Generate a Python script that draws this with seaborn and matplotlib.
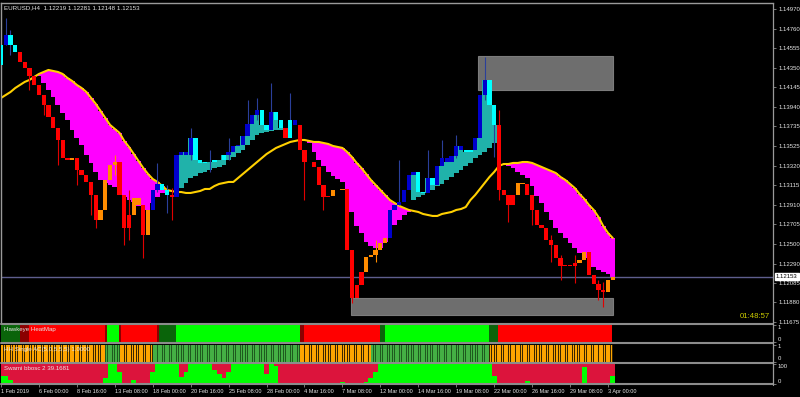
import numpy as np
import matplotlib
matplotlib.use("Agg")
import matplotlib.pyplot as plt
import seaborn as sns
from matplotlib.patches import Rectangle
from matplotlib.lines import Line2D

# ---------------- data ----------------
title_text = "EURUSD,H4  1.12219 1.12281 1.12148 1.12153"
timer_text = "01:48:57"
last_price = 1.12153
first_open = 1.14381

# Heiken-Ashi style closes, one candle per 2 H4 bars
close = [
    1.14591, 1.14696, 1.14591, 1.14517, 1.14412, 1.14349, 1.14265, 1.14170, 1.14065, 1.13959,
    1.13833, 1.13717, 1.13591, 1.13401, 1.13380, 1.13401, 1.13275, 1.13222, 1.13149, 1.13012,
    1.12748, 1.12854, 1.13170, 1.13328, 1.13359, 1.13012, 1.12664, 1.12801, 1.12980, 1.12906,
    1.12590, 1.12854, 1.13064, 1.13128, 1.13064, 1.13012, 1.12991, 1.13433, 1.13464, 1.13433,
    1.13612, 1.13380, 1.13349, 1.13359, 1.13359, 1.13380, 1.13380, 1.13433, 1.13464, 1.13528,
    1.13538, 1.13633, 1.13759, 1.13854, 1.13907, 1.13749, 1.13696, 1.13886, 1.13801, 1.13717,
    1.13612, 1.13801, 1.13749, 1.13486, 1.13359, 1.13359, 1.13307, 1.13117, 1.12991, 1.13001,
    1.13064, 1.13064, 1.13075, 1.12433, 1.11927, 1.12064, 1.12201, 1.12359, 1.12380, 1.12433,
    1.12506, 1.12559, 1.12854, 1.12906, 1.12938, 1.13064, 1.13222, 1.13254, 1.13043, 1.13033,
    1.13191, 1.13117, 1.13317, 1.13401, 1.13359, 1.13422, 1.13528, 1.13486, 1.13464, 1.13486,
    1.13612, 1.14065, 1.14223, 1.13959, 1.13749, 1.13064, 1.13012, 1.12906, 1.13012, 1.13138,
    1.13128, 1.13012, 1.12854, 1.12696, 1.12664, 1.12538, 1.12485, 1.12348, 1.12264, 1.12275,
    1.12264, 1.12296, 1.12327, 1.12411, 1.12169, 1.12075, 1.12011, 1.11990, 1.12117, 1.12153,
]
candle_kind = list(
    "cbccrrrrrr" "rrrrrorrrr" "roooorrroo" "robbccrbbb" "bcccccccbb"
    "bbbbbccbcc" "rcbrrrrrrr" "ooorrrrooo" "oobbbbbbcc" "bcbbbbbbcc"
    "bbbccrrrro" "orrrrrrrrr" "rroorrrroo"
)
ma_line = [
    1.14033, 1.14065, 1.14096, 1.14138, 1.14170, 1.14202, 1.14223, 1.14254, 1.14286, 1.14307,
    1.14328, 1.14317, 1.14307, 1.14286, 1.14244, 1.14212, 1.14170, 1.14138, 1.14096, 1.14033,
    1.13970, 1.13896, 1.13822, 1.13749, 1.13707, 1.13665, 1.13580, 1.13517, 1.13443, 1.13370,
    1.13296, 1.13233, 1.13180, 1.13149, 1.13106, 1.13064, 1.13054, 1.13043, 1.13043, 1.13033,
    1.13033, 1.13043, 1.13054, 1.13075, 1.13075, 1.13106, 1.13128, 1.13138, 1.13149, 1.13149,
    1.13191, 1.13233, 1.13275, 1.13317, 1.13359, 1.13401, 1.13443, 1.13475, 1.13507, 1.13528,
    1.13549, 1.13570, 1.13580, 1.13591, 1.13591, 1.13580, 1.13570, 1.13570, 1.13559, 1.13549,
    1.13528, 1.13517, 1.13507, 1.13464, 1.13412, 1.13349, 1.13296, 1.13233, 1.13170, 1.13117,
    1.13064, 1.13012, 1.12959, 1.12927, 1.12896, 1.12875, 1.12854, 1.12843, 1.12833, 1.12812,
    1.12801, 1.12791, 1.12791, 1.12812, 1.12822, 1.12833, 1.12854, 1.12864, 1.12885, 1.12959,
    1.13012, 1.13075, 1.13138, 1.13201, 1.13254, 1.13317, 1.13338, 1.13338, 1.13349, 1.13349,
    1.13359, 1.13359, 1.13349, 1.13328, 1.13307, 1.13285, 1.13264, 1.13243, 1.13201, 1.13170,
    1.13128, 1.13085, 1.13022, 1.12970, 1.12906, 1.12854, 1.12780, 1.12685, 1.12612, 1.12559,
]
nan = float("nan")
band = [
    nan, nan, nan, nan, nan, nan, nan, nan, 1.14265, 1.14191,
    1.14117, 1.14044, 1.13959, 1.13875, 1.13801, 1.13696, 1.13612, 1.13538, 1.13433, 1.13349,
    1.13254, 1.13170, 1.13138, 1.13117, 1.13096, 1.13043, 1.12991, 1.12959, 1.12938, 1.12896,
    1.12854, 1.12854, 1.12927, 1.12991, 1.13033, 1.13054, nan, 1.13043, 1.13085, 1.13138,
    1.13191, 1.13212, 1.13243, 1.13254, 1.13275, 1.13296, 1.13307, 1.13328, 1.13380, 1.13412,
    1.13454, 1.13486, 1.13538, 1.13591, 1.13643, 1.13665, 1.13675, 1.13686, 1.13696, 1.13696,
    nan, nan, nan, nan, nan, 1.13559, 1.13464, 1.13380, 1.13317, 1.13254,
    1.13212, 1.13180, 1.13149, 1.13012, 1.12833, 1.12685, 1.12612, 1.12517, 1.12475, 1.12454,
    1.12454, 1.12517, 1.12633, 1.12696, 1.12748, 1.12801, 1.12833, 1.12959, 1.12991, 1.13012,
    1.13033, 1.13064, 1.13106, 1.13128, 1.13170, 1.13201, 1.13243, 1.13275, 1.13317, 1.13349,
    1.13401, 1.13433, 1.13464, 1.13507, 1.13559, nan, 1.13328, 1.13317, 1.13296, 1.13254,
    1.13222, 1.13191, 1.13106, 1.13001, 1.12927, 1.12833, 1.12748, 1.12664, 1.12612, 1.12559,
    1.12506, 1.12454, 1.12401, 1.12348, 1.12306, 1.12253, 1.12222, 1.12201, 1.12180, 1.12153,
]
band_kind = list(
    "--------mm" "mmmmmmmmmm" "mmmmmmmmmm" "mmmmmm-ttt" "tttttttttt"
    "tttttttttt" "-----mmmmm" "mmmmmmmmmm" "mmmmmmmttt" "tttttttttt"
    "ttttt-mmmm" "mmmmmmmmmm" "mmmmmmmmmm"
)
wick_candle = [1, 2, 6, 9, 12, 16, 19, 20, 24, 26, 27, 30, 33, 35, 36, 40, 44, 48, 52, 54,
               57, 61, 64, 68, 74, 79, 84, 90, 93, 96, 102, 104, 105, 107, 112, 116, 118, 121, 126, 127]
wick_high = [1.14875, 1.14749, 1.14349, 1.14065, 1.13696, 1.13380, 1.13117, 1.12959, 1.13433, 1.13012,
             1.13064, 1.12854, 1.13349, 1.13117, 1.13085, 1.13717, 1.13486, 1.13612, 1.14012, 1.14033,
             1.14191, 1.14086, 1.13433, 1.13117, 1.12117, 1.12538, 1.13380, 1.13486, 1.13591, 1.13643,
             1.14465, 1.13801, 1.13907, 1.13012, 1.13012, 1.12590, 1.12380, 1.12380, 1.12117, 1.12096]
wick_low = [1.14591, 1.14486, 1.14117, 1.13854, 1.13328, 1.13117, 1.12801, 1.12664, 1.13222, 1.12485,
            1.12538, 1.12348, 1.13043, 1.12822, 1.12748, 1.13380, 1.13254, 1.13380, 1.13643, 1.13801,
            1.13749, 1.13643, 1.12959, 1.12854, 1.11874, 1.12306, 1.12906, 1.13064, 1.13328, 1.13401,
            1.14012, 1.13412, 1.12959, 1.12727, 1.12696, 1.12306, 1.12117, 1.12085, 1.11906, 1.11832]

zone_left = [201.2, 147.6]
zone_right = [258.1, 258.1]
zone_low = [1.14117, 1.11748]
zone_high = [1.14475, 1.11927]

price_ticks = [1.14970, 1.14760, 1.14555, 1.14350, 1.14145, 1.13940, 1.13735, 1.13525, 1.13320,
               1.13115, 1.12910, 1.12705, 1.12500, 1.12290, 1.12085, 1.11880, 1.11675]
time_tick_bars = [0, 16, 32, 48, 64, 80, 96, 112, 128, 144, 160, 176, 192, 208, 224, 240, 256]
time_labels = ["1 Feb 2019", "6 Feb 00:00", "8 Feb 16:00", "13 Feb 08:00", "18 Feb 00:00",
               "20 Feb 16:00", "25 Feb 08:00", "28 Feb 00:00", "4 Mar 16:00", "7 Mar 08:00",
               "12 Mar 00:00", "14 Mar 16:00", "19 Mar 08:00", "22 Mar 00:00", "26 Mar 16:00",
               "29 Mar 08:00", "3 Apr 00:00"]

heat_start = [0, 8.0, 11.8, 43.9, 44.7, 49.8, 50.6, 65.8, 66.6, 73.8, 126.1, 127.8, 159.8, 162.0, 205.8, 209.6]
heat_end_last = 257.7
heat_state = ["G", "D", "R", "D", "L", "D", "R", "D", "G", "L", "D", "R", "G", "L", "G", "R"]

hh_start = [0, 44, 50, 64, 126, 156, 206]
hh_end_last = 258
hh_state = ["O", "G", "O", "G", "O", "G", "O"]

swami = [
    40, 40, 20, 0, 0, 0, 0, 0, 0, 0,
    0, 0, 0, 0, 0, 0, 0, 0, 0, 0,
    0, 0, 30, 100, 100, 60, 0, 0, 20, 0,
    0, 0, 60, 100, 100, 100, 100, 100, 35, 60,
    100, 100, 100, 100, 100, 70, 50, 30, 60, 100,
    100, 100, 100, 100, 100, 100, 50, 100, 90, 0,
    0, 0, 0, 0, 0, 0, 0, 0, 0, 0,
    0, 0, 10, 0, 0, 0, 0, 10, 30, 60,
    100, 100, 100, 100, 100, 100, 100, 100, 100, 100,
    100, 100, 100, 100, 100, 100, 100, 100, 100, 100,
    100, 100, 100, 100, 40, 0, 0, 0, 0, 0,
    0, 15, 0, 0, 0, 0, 0, 0, 0, 0,
    0, 0, 0, 85, 0, 0, 0, 0, 0, 40,
]

# ---------------- styling ----------------
sns.set_theme(style="dark")
plt.rcParams["font.family"] = ["Liberation Sans", "DejaVu Sans"]

CANDLE = {"b": "#0000CD", "c": "#00FFFF", "r": "#FF0000", "o": "#FF8C00"}
WICK = {"b": "#2A3F9A", "c": "#2A3F9A", "r": "#E00000", "o": "#FF8C00"}
HEAT = {"G": "#0A640A", "D": "#8B0000", "R": "#FF0000", "L": "#00FF00"}
HH = {"O": "#FFA500", "G": "#44B044"}
HH_GAP = {"O": "#3a2600", "G": "#1E5A1E"}
GRAY = "#8a8a8a"
TXT = "#e6e6e6"

W, H = 800, 397
fig = plt.figure(figsize=(8.0, 3.97), dpi=100)
fig.patch.set_facecolor("black")


def px_rect(x0, y0, x1, y1):
    return [x0 / W, 1 - y1 / H, (x1 - x0) / W, (y1 - y0) / H]


XL = (0, 325.6)
ax = fig.add_axes(px_rect(1, 3, 773, 323))
ax1 = fig.add_axes(px_rect(1, 324.8, 773, 342.2))
ax2 = fig.add_axes(px_rect(1, 344.5, 773, 361.5))
ax3 = fig.add_axes(px_rect(1, 363.5, 773, 384))

for a in (ax, ax1, ax2, ax3):
    a.set_facecolor("black")
    a.set_xlim(*XL)
    a.grid(False)
    for s in a.spines.values():
        s.set_visible(False)

# ---------------- main price panel ----------------
close_a = np.array(close)
ma_a = np.array(ma_line)
band_a = np.array(band)
kind_a = np.array(band_kind)
cx = 2.0 * np.arange(len(close_a))

m = kind_a == "m"
ax.bar(cx[m], np.abs(band_a[m] - ma_a[m]), bottom=np.minimum(band_a[m], ma_a[m]),
       width=2.05, color="#FF00FF", linewidth=0, zorder=1)
t = kind_a == "t"
ax.bar(cx[t], np.abs(band_a[t] - close_a[t]), bottom=np.minimum(band_a[t], close_a[t]),
       width=2.05, color="#20B2AA", linewidth=0, zorder=1)

for l, r, lo, hi in zip(zone_left, zone_right, zone_low, zone_high):
    ax.add_patch(Rectangle((l, lo), r - l, hi - lo, facecolor="#6E6E6E",
                           edgecolor="#7c7c7c", linewidth=0.8, zorder=0.5))

ax.axhline(last_price, color="#5e5e8e", linewidth=1.0, zorder=1.5)

sns.lineplot(x=cx, y=ma_a, ax=ax, color="#FFD000", linewidth=1.5, zorder=2, legend=False)

opens = np.concatenate([[first_open], close_a[:-1]])
lo_b = np.minimum(opens, close_a)
hi_b = np.maximum(opens, close_a)
minh = 0.00007
small = (hi_b - lo_b) < minh
heights = np.where(small, minh, hi_b - lo_b)
bottoms = np.where(small, (hi_b + lo_b) / 2 - minh / 2, lo_b)
wk = np.array(wick_candle)
ax.vlines(cx[wk], wick_low, wick_high, colors=[WICK[candle_kind[k]] for k in wk],
          linewidth=0.8, zorder=3)
ax.bar(cx, heights, bottom=bottoms, width=1.8,
       color=[CANDLE[k] for k in candle_kind], linewidth=0, zorder=4)

ax.set_ylim(1.11664, 1.15033)
ax.set_xticks([])
ax.yaxis.tick_right()
ax.set_yticks(price_ticks)
ax.set_yticklabels([f"{v:.5f}" for v in price_ticks])
ax.tick_params(axis="y", which="both", length=2.5, width=0.6, pad=1.5,
               color=GRAY, labelcolor=TXT, labelsize=4.3, right=True, left=False)
ax.set_ylabel("")
ax.set_xlabel("")
ax.spines["top"].set_visible(True)
ax.spines["left"].set_visible(True)
ax.spines["top"].set_color("#9a9a9a")
ax.spines["left"].set_color("#9a9a9a")
ax.spines["top"].set_linewidth(1.0)
ax.spines["left"].set_linewidth(1.0)

# ---------------- Hawkeye heatmap ----------------
heat_end = heat_start[1:] + [heat_end_last]
ax1.bar(heat_start, 1, width=np.array(heat_end) - np.array(heat_start), bottom=0,
        align="edge", color=[HEAT[s] for s in heat_state], linewidth=0)
ax1.set_ylim(0, 1)

# ---------------- HH stripes ----------------
hh_end = hh_start[1:] + [hh_end_last]
ax2.bar(hh_start, 1, width=np.array(hh_end) - np.array(hh_start), bottom=0,
        align="edge", color=[HH_GAP[s] for s in hh_state], linewidth=0)
hh_bars = np.arange(0, hh_end_last)
idx = np.searchsorted(np.array(hh_start), hh_bars, side="right") - 1
ax2.bar(hh_bars + 0.5, 1, width=0.7, bottom=0,
        color=[HH[hh_state[i]] for i in idx], linewidth=0)
ax2.set_ylim(0, 1)

# ---------------- Swami bbosc ----------------
swami_a = np.array(swami, dtype=float)
ax3.bar(cx, 100, width=2.05, color="#DC143C", linewidth=0)
ax3.bar(cx, swami_a, width=2.05, color="#00FF00", linewidth=0)
ax3.set_ylim(0, 100)

for a, labs in ((ax1, ["0", "1"]), (ax2, ["0", "1"]), (ax3, ["0", "100"])):
    a.yaxis.tick_right()
    lo, hi = a.get_ylim()
    a.set_yticks([lo, hi])
    a.set_yticklabels(labs)
    a.tick_params(axis="y", length=2, width=0.6, pad=1.5, color=GRAY,
                  labelcolor=TXT, labelsize=4.3, right=True, left=False)
    ylabs = a.get_yticklabels()
    ylabs[0].set_va("bottom")
    ylabs[1].set_va("top")
    a.set_ylabel("")

for a in (ax1, ax2):
    a.set_xticks([])

ax3.set_xticks(time_tick_bars)
ax3.set_xticklabels(time_labels, ha="left")
ax3.tick_params(axis="x", length=2.5, width=0.6, pad=1.0, color=GRAY,
                labelcolor=TXT, labelsize=4.0, bottom=True)
ax3.set_xlabel("")

# ---------------- frame lines & texts ----------------
for ypx in (323.8, 343.4, 362.6, 384.4):
    fig.add_artist(Line2D([1 / W, 773 / W], [1 - ypx / H, 1 - ypx / H],
                          transform=fig.transFigure, color="#8c8c8c", linewidth=1.5))
fig.add_artist(Line2D([773 / W, 773 / W], [1 - 3 / H, 1 - 385 / H],
                      transform=fig.transFigure, color="#9a9a9a", linewidth=0.9))

fig.text(4 / W, 1 - 8 / H, title_text, color=TXT, fontsize=4.5, va="center", ha="left")
fig.text(4 / W, 1 - 330 / H, "Hawkeye HeatMap", color=TXT, fontsize=4.4, va="center", ha="left")
fig.text(4 / W, 1 - 349.5 / H, "HH Single AC(5,0,5,5,5) 1.0000", color=TXT, fontsize=4.4,
         va="center", ha="left")
fig.text(4 / W, 1 - 368.5 / H, "Swami bbosc 2 39.1681", color=TXT, fontsize=4.4,
         va="center", ha="left")
fig.text(770 / W, 1 - 317 / H, timer_text, color="#CCCC00", fontsize=5.6, va="center", ha="right")
fig.text(776 / W, 1 - 276.5 / H, f"{last_price:.5f}", color="black", fontsize=4.3,
         va="center", ha="left",
         bbox=dict(boxstyle="square,pad=0.25", facecolor="white", edgecolor="white"))

fig.savefig("out.png", dpi=100, facecolor="black")
